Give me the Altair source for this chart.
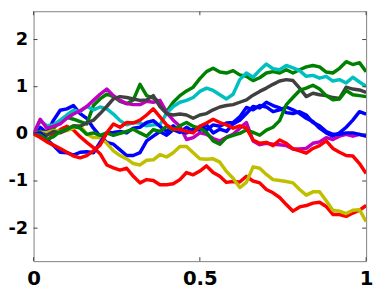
import altair as alt
import pandas as pd

t = [0.00, 0.02, 0.04, 0.06, 0.08, 0.10, 0.12, 0.14, 0.16, 0.18,
     0.20, 0.22, 0.24, 0.26, 0.28, 0.30, 0.32, 0.34, 0.36, 0.38,
     0.40, 0.42, 0.44, 0.46, 0.48, 0.50, 0.52, 0.54, 0.56, 0.58,
     0.60, 0.62, 0.64, 0.66, 0.68, 0.70, 0.72, 0.74, 0.76, 0.78,
     0.80, 0.82, 0.84, 0.86, 0.88, 0.90, 0.92, 0.94, 0.96, 0.98, 1.00]

blue1 = [0, 0.14, 0.02, 0.29, 0.50, 0.53, 0.60, 0.43, 0.33, 0.12, -0.05, -0.18, -0.22, -0.34, -0.46, -0.46, -0.40,
         -0.15, -0.05, 0.05, -0.03, 0.09, 0.03, 0.14, 0.05, 0.16, 0.08, 0.19, 0.16, 0.23, 0.24, 0.36, 0.56, 0.51,
         0.60, 0.57, 0.47, 0.51, 0.57, 0.51, 0.43, 0.33, 0.26, 0.12, 0.02, -0.05, 0.02, 0.14, 0.29, 0.47, 0.42]
green1 = [0, 0.05, -0.01, 0.12, 0.26, 0.35, 0.31, 0.26, 0.21, 0.60, 0.74, 0.84, 0.79, 0.69, 0.64, 0.72, 1.05, 0.81,
          0.76, 0.67, 0.47, 0.67, 0.81, 0.91, 0.99, 1.17, 1.32, 1.39, 1.31, 1.29, 1.34, 1.25, 1.22, 1.13, 1.19, 1.29,
          1.32, 1.29, 1.36, 1.29, 1.36, 1.42, 1.45, 1.42, 1.31, 1.29, 1.39, 1.53, 1.47, 1.51, 1.32]
red1 = [0, -0.06, -0.15, -0.01, 0.09, 0.16, 0.08, -0.06, -0.18, -0.29, -0.42, -0.66, -0.72, -0.77, -0.73, -0.90,
        -1.04, -0.97, -0.99, -1.08, -1.08, -1.06, -0.97, -0.82, -0.87, -0.79, -0.68, -0.82, -0.90, -1.03, -1.01,
        -1.02, -0.90, -1.00, -1.04, -1.18, -1.25, -1.35, -1.50, -1.64, -1.55, -1.52, -1.47, -1.45, -1.54, -1.71,
        -1.71, -1.75, -1.68, -1.62, -1.52]
cyan = [0, 0.28, 0.17, 0.19, 0.29, 0.40, 0.50, 0.47, 0.58, 0.51, 0.57, 0.53, 0.42, 0.28, 0.19, 0.24, 0.23, 0.17,
        0.19, 0.19, 0.44, 0.58, 0.67, 0.71, 0.77, 0.90, 0.97, 0.92, 0.83, 0.74, 0.84, 1.15, 1.29, 1.20, 1.35, 1.48,
        1.38, 1.36, 1.45, 1.40, 1.34, 1.22, 1.24, 1.18, 1.22, 1.12, 1.15, 1.08, 1.20, 1.10, 1.01]
magenta = [0, 0.31, 0.12, 0.16, 0.21, 0.33, 0.42, 0.49, 0.58, 0.71, 0.84, 0.95, 0.81, 0.71, 0.64, 0.62, 0.62, 0.69,
           0.67, 0.71, 0.45, 0.29, 0.16, -0.12, -0.08, 0.02, -0.01, -0.10, -0.15, -0.07, -0.01, 0.12, 0.24, -0.15,
           -0.23, -0.20, -0.22, -0.23, -0.25, -0.32, -0.32, -0.31, -0.20, -0.17, -0.08, -0.12, -0.05, -0.01, -0.05,
           -0.01, -0.05]
yellow = [0, 0.03, 0.03, 0.07, 0.05, 0.07, 0.12, 0.17, -0.01, -0.08, -0.08, -0.20, -0.36, -0.46, -0.53, -0.63,
          -0.66, -0.56, -0.55, -0.44, -0.49, -0.40, -0.27, -0.27, -0.40, -0.53, -0.54, -0.53, -0.60, -0.80, -0.94,
          -1.14, -1.03, -0.70, -0.73, -0.86, -0.97, -0.99, -1.01, -1.04, -1.18, -1.30, -1.23, -1.23, -1.42, -1.62,
          -1.64, -1.69, -1.62, -1.61, -1.86]
gray = [0, 0.02, -0.03, 0.05, 0.02, 0.09, 0.17, 0.16, 0.23, 0.29, 0.43, 0.58, 0.74, 0.79, 0.77, 0.74, 0.71, 0.72,
        0.81, 0.58, 0.43, 0.40, 0.42, 0.40, 0.33, 0.40, 0.43, 0.51, 0.57, 0.60, 0.62, 0.67, 0.72, 0.82, 0.90, 0.97,
        1.05, 1.12, 1.15, 1.13, 0.97, 0.79, 0.86, 0.83, 0.81, 0.77, 0.75, 0.99, 0.95, 0.93, 0.88]
blue2 = [0, 0.02, -0.12, -0.25, -0.39, -0.40, -0.45, -0.39, -0.38, -0.40, -0.18, 0.02, 0.03, 0.05, 0.02, 0.12, 0.14,
         0.24, 0.28, 0.16, 0.05, 0.17, 0.05, 0.02, 0.10, 0.08, 0.19, 0.02, 0.10, 0.05, 0.21, 0.29, 0.43, 0.58, 0.55,
         0.67, 0.60, 0.55, 0.45, 0.43, 0.47, 0.40, 0.24, 0.17, 0.05, -0.01, -0.01, 0.02, 0.02, -0.01, -0.05]
green2 = [0, -0.03, -0.12, -0.06, 0.05, 0.10, 0.16, 0.12, -0.01, 0.02, -0.03, 0.02, -0.03, 0.01, 0.05, 0.10, 0.02,
          -0.05, 0.09, 0.05, 0.16, 0.08, 0.17, 0.24, 0.16, 0.12, 0.03, -0.15, -0.22, -0.08, -0.03, 0.01, 0.08, 0.03,
          -0.03, 0.08, 0.14, 0.28, 0.62, 0.77, 0.92, 0.97, 1.03, 0.95, 0.81, 0.72, 0.74, 0.92, 0.83, 0.81, 0.79]
red2 = [0, -0.08, -0.17, -0.24, -0.31, -0.39, -0.47, -0.51, -0.46, -0.36, -0.24, 0.02, 0.21, 0.14, 0.24, 0.23, 0.29,
        0.40, 0.53, 0.36, 0.19, 0.10, 0.09, 0.05, 0.02, 0.16, 0.23, 0.31, 0.24, 0.19, 0.12, 0.17, 0.12, -0.13, -0.20,
        -0.18, -0.25, -0.13, -0.20, -0.32, -0.36, -0.41, -0.31, -0.25, -0.15, -0.31, -0.39, -0.46, -0.47, -0.63,
        -0.84]

series_names = ["blue1", "green1", "red1", "cyan", "magenta", "yellow", "gray", "blue2", "green2", "red2"]
series_vals = [blue1, green1, red1, cyan, magenta, yellow, gray, blue2, green2, red2]
series_colors = ["#0000ff", "#008000", "#ff0000", "#00bfbf", "#bf00bf", "#bfbf00", "#404040",
                 "#0000ff", "#008000", "#ff0000"]

x_ticks = [0, 0.5, 1]
y_ticks = [-2, -1, 0, 1, 2]

rows = []
for name, vals in zip(series_names, series_vals):
    assert len(vals) == len(t), name
    for ti, v in zip(t, vals):
        rows.append({"t": ti, "v": v, "s": name})
df = pd.DataFrame(rows)

W, H = 338, 254
xs = alt.Scale(domain=[0, 1], nice=False, zero=False)
ys = alt.Scale(domain=[-2.7, 2.6], nice=False, zero=False)
xax = alt.Axis(values=x_ticks, format="~g", title=None, labelPadding=8, labelFontSize=20,
               labelFlush=False, labelOverlap=False)
yax = alt.Axis(values=y_ticks, title=None, labelPadding=6, labelFontSize=18,
               labelFlush=False, labelOverlap=False,
               labelExpr="datum.value < 0 ? '-' + abs(datum.value) : '' + datum.value")

layers = []
for name, color in zip(series_names, series_colors):
    layers.append(
        alt.Chart(df).transform_filter(alt.datum.s == name)
        .mark_line(color=color, strokeWidth=3.5, strokeJoin="round", clip=True)
        .encode(x=alt.X("t:Q", scale=xs, axis=xax), y=alt.Y("v:Q", scale=ys, axis=yax))
    )

ydf = pd.DataFrame({"v": y_ticks})
xdf = pd.DataFrame({"t": x_ticks})
tick_style = dict(color="#404040", strokeWidth=1)
layers.append(alt.Chart(ydf).mark_rule(**tick_style).encode(
    y=alt.Y("v:Q", scale=ys, axis=yax), x=alt.value(0), x2=alt.value(4)))
layers.append(alt.Chart(ydf).mark_rule(**tick_style).encode(
    y=alt.Y("v:Q", scale=ys, axis=yax), x=alt.value(W - 4), x2=alt.value(W)))
layers.append(alt.Chart(xdf).mark_rule(**tick_style).encode(
    x=alt.X("t:Q", scale=xs, axis=xax), y=alt.value(H - 4), y2=alt.value(H)))
layers.append(alt.Chart(xdf).mark_rule(**tick_style).encode(
    x=alt.X("t:Q", scale=xs, axis=xax), y=alt.value(0), y2=alt.value(4)))

chart = alt.layer(*layers).properties(
    width=W, height=H,
    autosize=alt.AutoSizeParams(type="none"),
    padding={"left": 26, "top": 1, "right": 8, "bottom": 26},
).configure_view(
    stroke="#808080", strokeWidth=1
).configure_axis(
    domain=False, ticks=False, grid=False,
    labelFont="DejaVu Sans", labelFontWeight="bold", labelColor="#000000"
)

chart.save("out.html", embed_options={"renderer": "svg", "actions": False})
